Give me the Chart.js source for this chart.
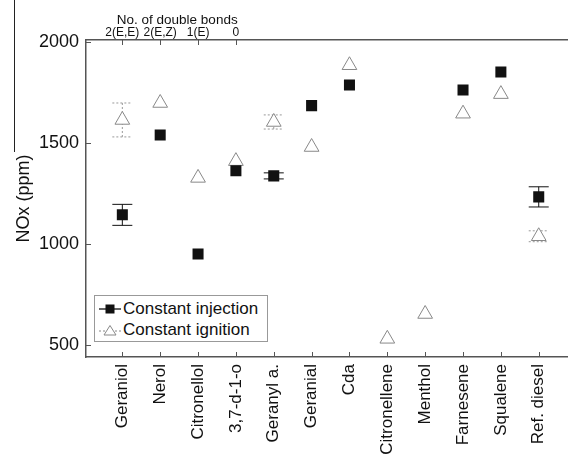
<!DOCTYPE html>
<html>
<head>
<meta charset="utf-8">
<script src="https://cdn.jsdelivr.net/npm/chart.js@4.4.0/dist/chart.umd.min.js"></script>
<style>
  html,body{margin:0;padding:0;background:#fff}
  #wrap{position:relative;width:577px;height:460px}
  #legend{position:absolute;left:94px;top:295px;width:174px;height:47px;border:1px solid #999;background:#fff;
    box-sizing:border-box;padding:2px 0 0 3px;font:17px 'Liberation Sans',Arial,sans-serif;color:#111}
  #legend .row{display:flex;align-items:center;height:21px;white-space:nowrap}
  #legend svg{margin-right:1px}
</style>
</head>
<body>
<div id="wrap">
  <canvas id="c" width="577" height="460"></canvas>
  <div id="legend">
    <div class="row"><svg width="24" height="14"><line x1="1" y1="7" x2="23" y2="7" stroke="#111" stroke-width="1.3"/><rect x="7.5" y="2.5" width="9" height="9" fill="#111"/></svg><span>Constant injection</span></div>
    <div class="row"><svg width="24" height="14"><line x1="1" y1="8" x2="23" y2="8" stroke="#888" stroke-width="1" stroke-dasharray="2,2"/><polygon points="12,2.5 18,12 6,12" fill="#fff" stroke="#888" stroke-width="1"/></svg><span>Constant ignition</span></div>
  </div>
</div>
<script>
/* ── data ── */
const compounds    = ['Geraniol','Nerol','Citronellol','3,7-d-1-o','Geranyl a.','Geranial','Cda','Citronellene','Menthol','Farnesene','Squalene','Ref. diesel'];
const bondLabels   = ['2(E,E)','2(E,Z)','1(E)','0'];
const injection    = [1144,1540,950,1362,1337,1685,1787,null,null,1762,1851,1233];
const injectionErr = [52,0,0,0,15,0,0,0,0,0,0,50];
const ignition     = [1614,1698,1327,1410,1604,1480,1885,530,653,1645,1742,1038];
const ignitionErr  = [84,0,0,0,35,0,0,0,0,0,0,27];
const yTicks       = [500,1000,1500,2000];

const F = "'Liberation Sans', Arial, sans-serif";
const AX = '#555';

const pts = arr => arr.map((v,i)=>({x:i,y:v})).filter(p=>p.y!==null);

/* error bars, drawn under the markers */
const errorBars = {
  id:'errorBars',
  beforeDatasetsDraw(chart){
    const {ctx} = chart, ys = chart.scales.y;
    chart.data.datasets.forEach((ds,di)=>{
      const meta = chart.getDatasetMeta(di);
      meta.data.forEach((el,j)=>{
        const p = ds.data[j], e = ds.errs[p.x];
        if(!e) return;
        const y1 = ys.getPixelForValue(p.y+e), y2 = ys.getPixelForValue(p.y-e), x = el.x, w = 10;
        ctx.save();
        ctx.strokeStyle = ds.errColor; ctx.lineWidth = 1;
        ctx.setLineDash(ds.errDash);
        ctx.beginPath();
        ctx.moveTo(x,y1); ctx.lineTo(x,y2);
        ctx.moveTo(x-w,y1); ctx.lineTo(x+w,y1);
        ctx.moveTo(x-w,y2); ctx.lineTo(x+w,y2);
        ctx.stroke();
        ctx.restore();
      });
    });
  }
};

/* inward tick marks, top title, stray frame line */
const decor = {
  id:'decor',
  afterDraw(chart){
    const {ctx, chartArea:a, scales} = chart;
    ctx.save();
    ctx.strokeStyle = AX; ctx.lineWidth = 1;
    ctx.beginPath();
    scales.x.ticks.forEach(t=>{const x=Math.round(scales.x.getPixelForValue(t.value))+0.5; ctx.moveTo(x,a.bottom); ctx.lineTo(x,a.bottom-5);});
    scales.x2.ticks.forEach(t=>{const x=Math.round(scales.x2.getPixelForValue(t.value))+0.5; ctx.moveTo(x,a.top); ctx.lineTo(x,a.top+5);});
    scales.y.ticks.forEach(t=>{const y=Math.round(scales.y.getPixelForValue(t.value))+0.5; ctx.moveTo(a.left,y); ctx.lineTo(a.left+5,y);});
    ctx.stroke();
    ctx.strokeStyle = '#222';
    ctx.beginPath(); ctx.moveTo(14.5,0); ctx.lineTo(14.5,152); ctx.stroke();
    ctx.fillStyle = '#111';
    ctx.font = '13.5px ' + F;
    ctx.textAlign = 'center'; ctx.textBaseline = 'alphabetic';
    ctx.fillText('No. of double bonds', scales.x2.getPixelForValue(1.45), 24);
    ctx.restore();
  }
};

new Chart(document.getElementById('c'), {
  type:'scatter',
  data:{ datasets:[
    { label:'Constant injection', data:pts(injection), errs:injectionErr, errColor:'#111', errDash:[],
      pointStyle:'rect', pointRadius:7.8, backgroundColor:'#111', borderColor:'#111', borderWidth:0 },
    { label:'Constant ignition', data:pts(ignition), errs:ignitionErr, errColor:'#999', errDash:[2,2],
      pointStyle:'triangle', pointRadius:8.5, backgroundColor:'#fff', borderColor:'#888', borderWidth:1 }
  ]},
  options:{
    responsive:false, animation:false,
    layout:{ padding:0 },
    plugins:{ legend:{display:false}, tooltip:{enabled:false} },
    scales:{
      x:{ type:'linear', position:'bottom', min:-0.96, max:11.76,
        afterBuildTicks:s=>{ s.ticks = compounds.map((c,i)=>({value:i})); },
        afterFit:s=>{ s.height = 103; },
        grid:{ display:false, drawTicks:false },
        border:{ color:AX, width:1.5 },
        ticks:{ autoSkip:false, minRotation:90, maxRotation:90, padding:7, color:'#111',
          font:{size:17, family:F}, callback:v=>compounds[v] } },
      x2:{ type:'linear', position:'top', min:-0.96, max:11.76,
        afterBuildTicks:s=>{ s.ticks = bondLabels.map((b,i)=>({value:i})); },
        afterFit:s=>{ s.height = 40; },
        grid:{ display:false, drawTicks:false },
        border:{ color:AX, width:1.5 },
        ticks:{ autoSkip:false, minRotation:0, maxRotation:0, padding:0, color:'#111',
          font:{size:12, family:F}, callback:v=>bondLabels[v] } },
      y:{ min:440, max:2010,
        afterBuildTicks:s=>{ s.ticks = yTicks.map(v=>({value:v})); },
        afterFit:s=>{ s.width = 86; },
        grid:{ display:false, drawTicks:false },
        border:{ color:AX, width:1.5 },
        title:{ display:true, text:'NOx (ppm)', color:'#111', font:{size:18, family:F}, padding:{top:13, bottom:0} },
        ticks:{ padding:7, color:'#111', font:{size:18, family:F}, callback:v=>String(v) } }
    }
  },
  plugins:[errorBars, decor]
});
</script>
</body>
</html>
